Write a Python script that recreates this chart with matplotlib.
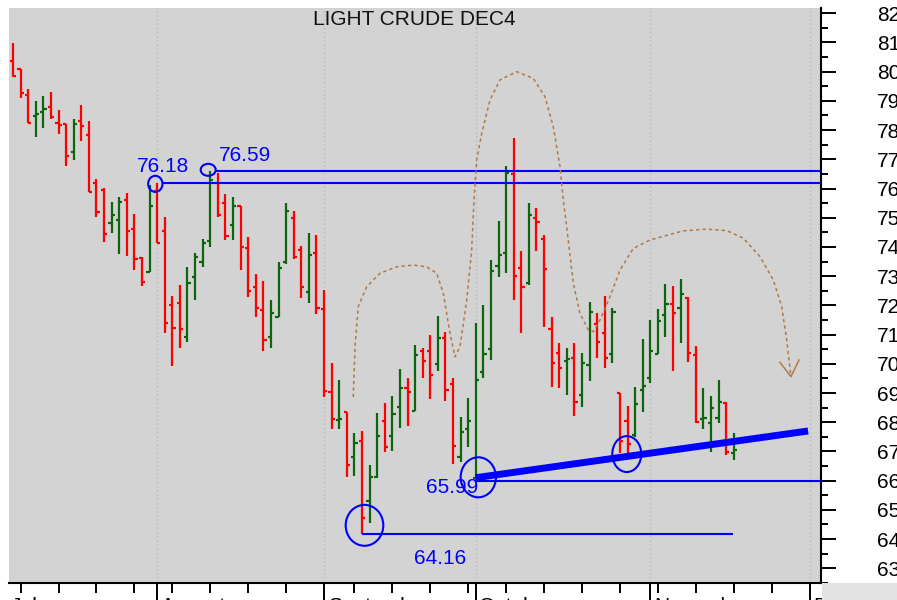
import numpy as np
import pandas as pd
import matplotlib
matplotlib.use("Agg")
import matplotlib.pyplot as plt
from matplotlib.patches import Ellipse, Rectangle
import matplotlib.transforms as mtransforms

plt.rcParams['font.family'] = ['Liberation Sans', 'DejaVu Sans']

# ---------------- data ----------------
title = "LIGHT CRUDE DEC4"
month_names = ["July", "August", "September", "October", "November", "December"]

opens = [80.37, 80.08, 79.20, 78.48, 78.62, 78.78, 78.25, 78.21, 77.26, 78.32,
         77.83, 76.19, 75.95, 74.81, 74.92, 75.60, 74.62, 73.61, 73.15, 75.90,
         74.56, 72.01, 72.09, 70.93, 72.98, 73.48, 74.20, 76.18, 75.50, 74.75,
         75.41, 73.95, 72.64, 71.84, 70.93, 71.59, 73.48, 74.98, 73.90, 72.45,
         73.78, 71.87, 69.03, 68.08, 68.36, 66.82, 67.37, 65.31, 66.14, 68.05,
         67.53, 68.53, 69.18, 68.38, 70.45, 70.45, 69.98, 70.89, 69.31, 66.80,
         67.77, 66.10, 69.73, 70.51, 73.36, 73.78, 76.50, 73.29, 72.76, 74.98,
         74.26, 71.18, 70.38, 70.08, 70.20, 68.93, 69.96, 71.36, 71.07, 70.33,
         69.01, 68.04, 67.55, 69.10, 69.50, 70.33, 71.67, 72.04, 71.90, 72.26,
         70.30, 68.10, 67.98, 68.13, 68.67, 66.95]
highs = [80.98, 80.10, 79.41, 79.00, 79.18, 79.30, 78.69, 78.21, 78.38, 78.86,
         78.32, 76.33, 76.03, 75.55, 75.72, 75.84, 75.12, 73.67, 76.12, 76.18,
         75.02, 72.33, 72.70, 73.30, 73.78, 74.27, 76.59, 76.52, 75.80, 75.72,
         75.41, 74.33, 73.07, 72.84, 72.18, 73.50, 75.50, 75.24, 74.04, 74.47,
         74.41, 72.53, 70.02, 69.45, 68.36, 67.62, 67.70, 66.54, 68.31, 68.67,
         68.90, 69.81, 69.50, 70.64, 70.53, 70.99, 71.64, 71.08, 69.50, 68.17,
         68.84, 71.39, 72.02, 73.55, 74.89, 76.77, 77.74, 73.86, 75.50, 75.32,
         74.41, 71.61, 70.72, 70.53, 70.72, 70.38, 72.11, 71.73, 72.33, 71.92,
         69.01, 68.56, 69.22, 70.84, 71.50, 71.87, 72.73, 72.66, 72.89, 72.30,
         70.61, 69.16, 68.90, 69.45, 68.70, 67.62]
lows = [79.82, 79.09, 78.23, 77.75, 78.06, 78.37, 77.87, 76.78, 76.98, 77.63,
        75.87, 75.04, 74.18, 74.49, 73.76, 73.70, 73.21, 72.67, 73.15, 74.13,
        71.04, 69.94, 70.55, 70.74, 72.18, 73.33, 74.01, 75.04, 74.24, 74.24,
        73.21, 72.30, 71.59, 70.44, 70.55, 71.59, 73.41, 73.58, 72.24, 72.07,
        71.71, 68.87, 67.77, 67.77, 66.14, 66.17, 64.16, 64.56, 66.08, 66.97,
        67.03, 67.81, 67.88, 68.38, 69.52, 68.80, 69.76, 68.73, 66.56, 66.63,
        67.16, 65.99, 69.52, 70.13, 72.96, 73.10, 72.18, 71.04, 72.70, 73.87,
        71.27, 69.22, 69.16, 68.93, 68.21, 68.51, 69.41, 70.19, 69.85, 70.02,
        66.96, 66.94, 67.51, 68.36, 69.33, 70.33, 70.91, 69.76, 70.72, 70.07,
        67.96, 67.76, 66.99, 67.96, 66.88, 66.70]
closes = [79.84, 79.28, 78.25, 78.55, 78.72, 78.44, 78.18, 77.12, 78.21, 78.14,
          75.89, 75.20, 74.44, 75.11, 75.55, 74.56, 73.59, 72.81, 75.40, 74.15,
          71.41, 71.24, 71.18, 72.76, 73.67, 74.15, 76.30, 75.09, 74.39, 75.41,
          74.01, 72.50, 71.92, 70.81, 71.73, 73.29, 75.24, 73.65, 72.64, 73.73,
          71.90, 69.07, 68.10, 68.12, 66.54, 67.28, 64.71, 66.14, 67.54, 67.14,
          68.28, 69.18, 69.05, 70.30, 70.10, 69.62, 70.89, 69.12, 67.19, 67.68,
          68.05, 69.45, 70.34, 73.18, 73.73, 76.52, 73.01, 72.64, 75.10, 74.87,
          73.24, 70.04, 69.85, 70.16, 68.70, 70.04, 71.78, 70.76, 70.21, 71.78,
          67.36, 67.26, 68.62, 69.24, 70.45, 71.48, 72.04, 71.73, 72.39, 70.38,
          68.02, 68.16, 68.48, 68.70, 66.99, 67.05]

# annotated levels
level_vals = [76.18, 76.59, 65.99, 64.16]
level_start = [19.7, 26.7, 61.0, 46.0]
level_end = [None, None, None, 94.9]
label_text = ["76.18", "76.59", "65.99", "64.16"]
label_x = [19.77, 30.62, 57.93, 56.24]
label_y = [76.58, 76.95, 65.57, 63.15]

# circles (center x, center y, width, height) in index / price units
circ_x = [18.76, 25.73, 61.33, 46.33, 80.9]
circ_y = [76.16, 76.64, 66.115, 64.47, 66.91]
circ_w = [1.89, 1.98, 4.65, 4.96, 3.82]
circ_h = [0.55, 0.41, 1.37, 1.40, 1.23]

# rising support line
trend_x = [60.98, 104.8]
trend_y = [66.10, 67.70]

# dashed projection path (head & shoulders sketch)
path_x = [44.85, 45.08, 45.51, 46.62, 48.37, 50.57, 52.76, 54.53, 55.85, 56.72,
          57.60, 58.26, 58.92, 59.80, 60.46, 60.76, 61.12, 61.78, 62.87, 64.19,
          66.39, 68.58, 70.12, 71.21, 72.10, 72.53, 72.98, 73.85, 74.73, 75.83,
          76.49, 77.37, 78.69, 80.01, 81.76, 83.96, 88.35, 91.43, 94.07, 96.26,
          98.46, 100.21, 101.32, 101.98, 102.54]
path_y = [68.86, 70.59, 71.96, 72.64, 73.10, 73.32, 73.38, 73.32, 73.10, 72.41,
          71.04, 70.24, 70.59, 72.18, 73.90, 75.61, 76.98, 77.89, 79.03, 79.72,
          80.00, 79.77, 79.14, 78.12, 76.75, 75.61, 74.69, 72.76, 71.73, 71.16,
          71.10, 71.50, 72.30, 73.21, 73.95, 74.24, 74.55, 74.61, 74.56, 74.30,
          73.67, 72.87, 71.96, 70.82, 69.56]
arrow_x = [101.09, 102.54, 103.60]
arrow_y = [70.05, 69.56, 70.13]

# ---------------- dates / axis positions ----------------
dates = pd.bdate_range("2024-07-05", "2024-12-06")
dates = dates[dates != pd.Timestamp("2024-09-02")]
month_first = [i for i in range(1, len(dates)) if dates[i].month != dates[i - 1].month]
week_first = [i for i in range(1, len(dates))
              if dates[i].isocalendar().week != dates[i - 1].isocalendar().week]

RED = "#ff0000"
GREEN = "#0c660c"
BLUE = "#0000ff"

o = np.array(opens); h = np.array(highs); l = np.array(lows); c = np.array(closes)
pos = np.arange(len(o))
cols = np.where(c >= o, GREEN, RED)

W, H = 897, 600
XLIM = (-0.527, 106.5)
YLIM = (62.496, 82.18)
fig = plt.figure(figsize=(W / 100, H / 100), dpi=100)
fig.patch.set_facecolor("white")
ax = fig.add_axes([9 / W, 17 / H, 812 / W, 575 / H])
ax.set_facecolor("#d3d3d3")

# month grid lines
for m in month_first:
    ax.axvline(m, color="#bdbdbd", lw=1.0, ls=(0, (1.2, 1.8)), zorder=1)

# OHLC bars
ax.vlines(pos, l, h, colors=cols, lw=1.6, zorder=3)
ax.hlines(o, pos - 0.42, pos, colors=cols, lw=1.6, zorder=3)
ax.hlines(c, pos, pos + 0.42, colors=cols, lw=1.6, zorder=3)

# level lines
for v, s, e in zip(level_vals, level_start, level_end):
    ax.hlines(v, s, XLIM[1] if e is None else e, colors=BLUE, lw=1.5, zorder=4)

for t, x, y in zip(label_text, label_x, label_y):
    ax.text(x, y, t, color=BLUE, fontsize=15, ha="center", va="baseline", zorder=6)

for x, y, w, hh in zip(circ_x, circ_y, circ_w, circ_h):
    ax.add_patch(Ellipse((x, y), w, hh, fill=False, edgecolor=BLUE, lw=1.5, zorder=5))

ax.plot(trend_x, trend_y, color=BLUE, lw=5, solid_capstyle="butt", zorder=5)

ax.plot(path_x, path_y, color="#b07a48", lw=1.1, ls=(0, (2.2, 2.0)), zorder=4)
ax.plot(arrow_x, arrow_y, color="#b07a48", lw=1.1, zorder=4)

# spines
for s in ["left", "top"]:
    ax.spines[s].set_visible(False)
for s in ["right", "bottom"]:
    ax.spines[s].set_linewidth(1.5)
    ax.spines[s].set_color("black")

# y axis on the right
ax.yaxis.tick_right()
ax.set_yticks(np.arange(63, 83, 1))
ax.set_yticks(np.arange(62.5, 82.0, 1), minor=True)
ax.tick_params(axis="y", which="major", length=10.8, width=1.4, pad=29.5,
               labelsize=15, direction="out", colors="black")
ax.tick_params(axis="y", which="minor", length=5.3, width=1.4, direction="out")

# x axis: month ticks (long) and weekly ticks (short)
ax.set_xticks(month_first)
ax.set_xticks(week_first, minor=True)
ax.set_xticklabels([])
ax.tick_params(axis="x", which="major", length=14, width=1.4, direction="out")
ax.tick_params(axis="x", which="minor", length=7.2, width=1.4, direction="out")

# limits last (setting ticks can expand the view)
ax.set_xlim(*XLIM)
ax.set_ylim(*YLIM)

trans = mtransforms.blended_transform_factory(ax.transData, ax.transAxes)
ylab = -(597.0 - 583) / 575
label_pos = [-0.26] + [m + 0.46 for m in month_first]
for name, xp in zip(month_names, label_pos):
    ax.text(xp, ylab, name, transform=trans, fontsize=15, ha="left", va="top",
            color="black", clip_on=False)

# title
fig.text(414 / W, 1 - 25 / H, title, ha="center", va="baseline", fontsize=15, color="#111111")

# corner box bottom-right
fig.patches.append(Rectangle((822 / W, 0), 75 / W, 17 / H, transform=fig.transFigure,
                             facecolor="#e3e3e3", edgecolor="none", zorder=10))

fig.savefig("out.png", dpi=100)
